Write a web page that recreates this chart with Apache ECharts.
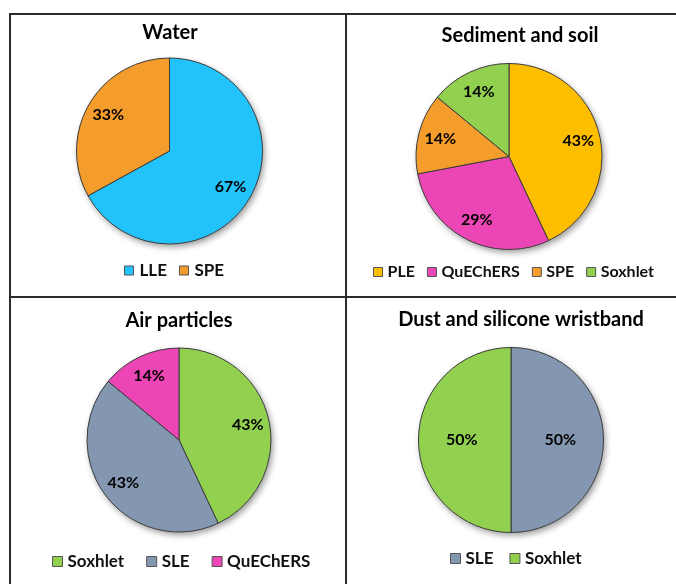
<!DOCTYPE html>
<html>
<head>
<meta charset="utf-8">
<script src="https://cdn.jsdelivr.net/npm/echarts@6/dist/echarts.min.js"></script>
<style>
  html, body { margin: 0; padding: 0; background: #fff; }
  #chart { width: 676px; height: 584px; }
</style>
</head>
<body>
<div id="chart"></div>
<script>
// ---- data ----
const panelTitles = ['Water', 'Sediment and soil', 'Air particles', 'Dust and silicone wristband'];
const waterNames = ['LLE', 'SPE'];
const waterValues = [67, 33];
const sedimentNames = ['PLE', 'QuEChERS', 'SPE', 'Soxhlet'];
const sedimentValues = [43, 29, 14, 14];
const airNames = ['Soxhlet', 'SLE', 'QuEChERS'];
const airValues = [43, 43, 14];
const dustNames = ['SLE', 'Soxhlet'];
const dustValues = [50, 50];

// ---- styles ----
const colors = {
  LLE: '#22C3FB',
  SPE: '#F49D2C',
  PLE: '#FDBE00',
  QuEChERS: '#EC45B5',
  Soxhlet: '#92D050',
  SLE: '#8497B0'
};
const FONT = 'Lato, "Open Sans", sans-serif';

const panels = [
  { names: waterNames, values: waterValues, center: [169.5, 151], r: 93, labelR0: 43,
    title: [170, 23], legend: { left: 124, top: 262, icon: 9, gap: 12, textPad: 1, font: 17 } },
  { names: sedimentNames, values: sedimentValues, center: [509, 156.5], r: 93, labelR0: 43,
    title: [520, 26], legend: { left: 373, top: 264, icon: 9, gap: 12, textPad: 0, font: 16 } },
  { names: airNames, values: airValues, center: [179, 440], r: 92, labelR0: 43,
    title: [179, 311], legend: { left: 52, top: 553, icon: 10, gap: 22, textPad: 0, font: 17 } },
  { names: dustNames, values: dustValues, center: [511, 440], r: 92.5, labelR0: 0,
    title: [521, 310], legend: { left: 450, top: 550, icon: 10, gap: 16, textPad: 0, font: 17 } }
];

const mainSeries = [], shadowSeries = [], labelSeries = [], titles = [], legends = [];
panels.forEach((p, i) => {
  const data = p.names.map((n, k) => ({ name: n, value: p.values[k] }));
  mainSeries.push({
    type: 'pie', z: 3, center: p.center, radius: [0, p.r], startAngle: 90, clockwise: true,
    data: data.map(d => ({ ...d, itemStyle: { color: colors[d.name] } })),
    itemStyle: { borderColor: '#3a3a3a', borderWidth: 1 },
    label: { show: false }, labelLine: { show: false },
    emphasis: { disabled: true }, silent: true
  });
  shadowSeries.push({
    type: 'pie', z: 1, center: p.center, radius: [0, p.r], startAngle: 90, clockwise: true,
    data: data,
    itemStyle: { color: '#ffffff', borderWidth: 0, shadowBlur: 6, shadowOffsetX: 2, shadowOffsetY: 3, shadowColor: 'rgba(0,0,0,0.4)' },
    label: { show: false }, labelLine: { show: false },
    emphasis: { disabled: true }, silent: true
  });
  labelSeries.push({
    type: 'pie', z: 5, center: p.center, radius: [p.labelR0, p.r], startAngle: 90, clockwise: true,
    data: data,
    itemStyle: { color: 'rgba(0,0,0,0)', borderWidth: 0 },
    label: { show: true, position: 'inside', formatter: q => q.value + '%',
      color: '#000', fontSize: 16, fontWeight: 'bold', fontFamily: FONT },
    labelLine: { show: false },
    emphasis: { disabled: true }, silent: true
  });
  titles.push({
    text: panelTitles[i], left: p.title[0], top: p.title[1], textAlign: 'center', padding: 0,
    textStyle: { fontSize: 20, fontWeight: 'bold', color: '#000', fontFamily: FONT }
  });
  const L = p.legend;
  legends.push({
    data: p.names, left: L.left, top: L.top, padding: 0,
    icon: 'rect', itemWidth: L.icon, itemHeight: L.icon, itemGap: L.gap,
    itemStyle: { borderColor: '#555', borderWidth: 1 },
    textStyle: { fontSize: L.font, fontWeight: 'bold', color: '#111', fontFamily: FONT, padding: [0, 0, 0, L.textPad] },
    selectedMode: false
  });
});

const lineStyle = { stroke: '#2b2b2b', lineWidth: 2 };
const chart = echarts.init(document.getElementById('chart'));
chart.setOption({
  animation: false,
  title: titles,
  legend: legends,
  series: mainSeries.concat(shadowSeries, labelSeries),
  graphic: [
    { type: 'line', shape: { x1: 9, y1: 14, x2: 676, y2: 14 }, style: lineStyle },
    { type: 'line', shape: { x1: 10, y1: 13, x2: 10, y2: 584 }, style: lineStyle },
    { type: 'line', shape: { x1: 346, y1: 14, x2: 346, y2: 584 }, style: lineStyle },
    { type: 'line', shape: { x1: 9, y1: 297, x2: 676, y2: 297 }, style: lineStyle }
  ]
});
</script>
</body>
</html>
